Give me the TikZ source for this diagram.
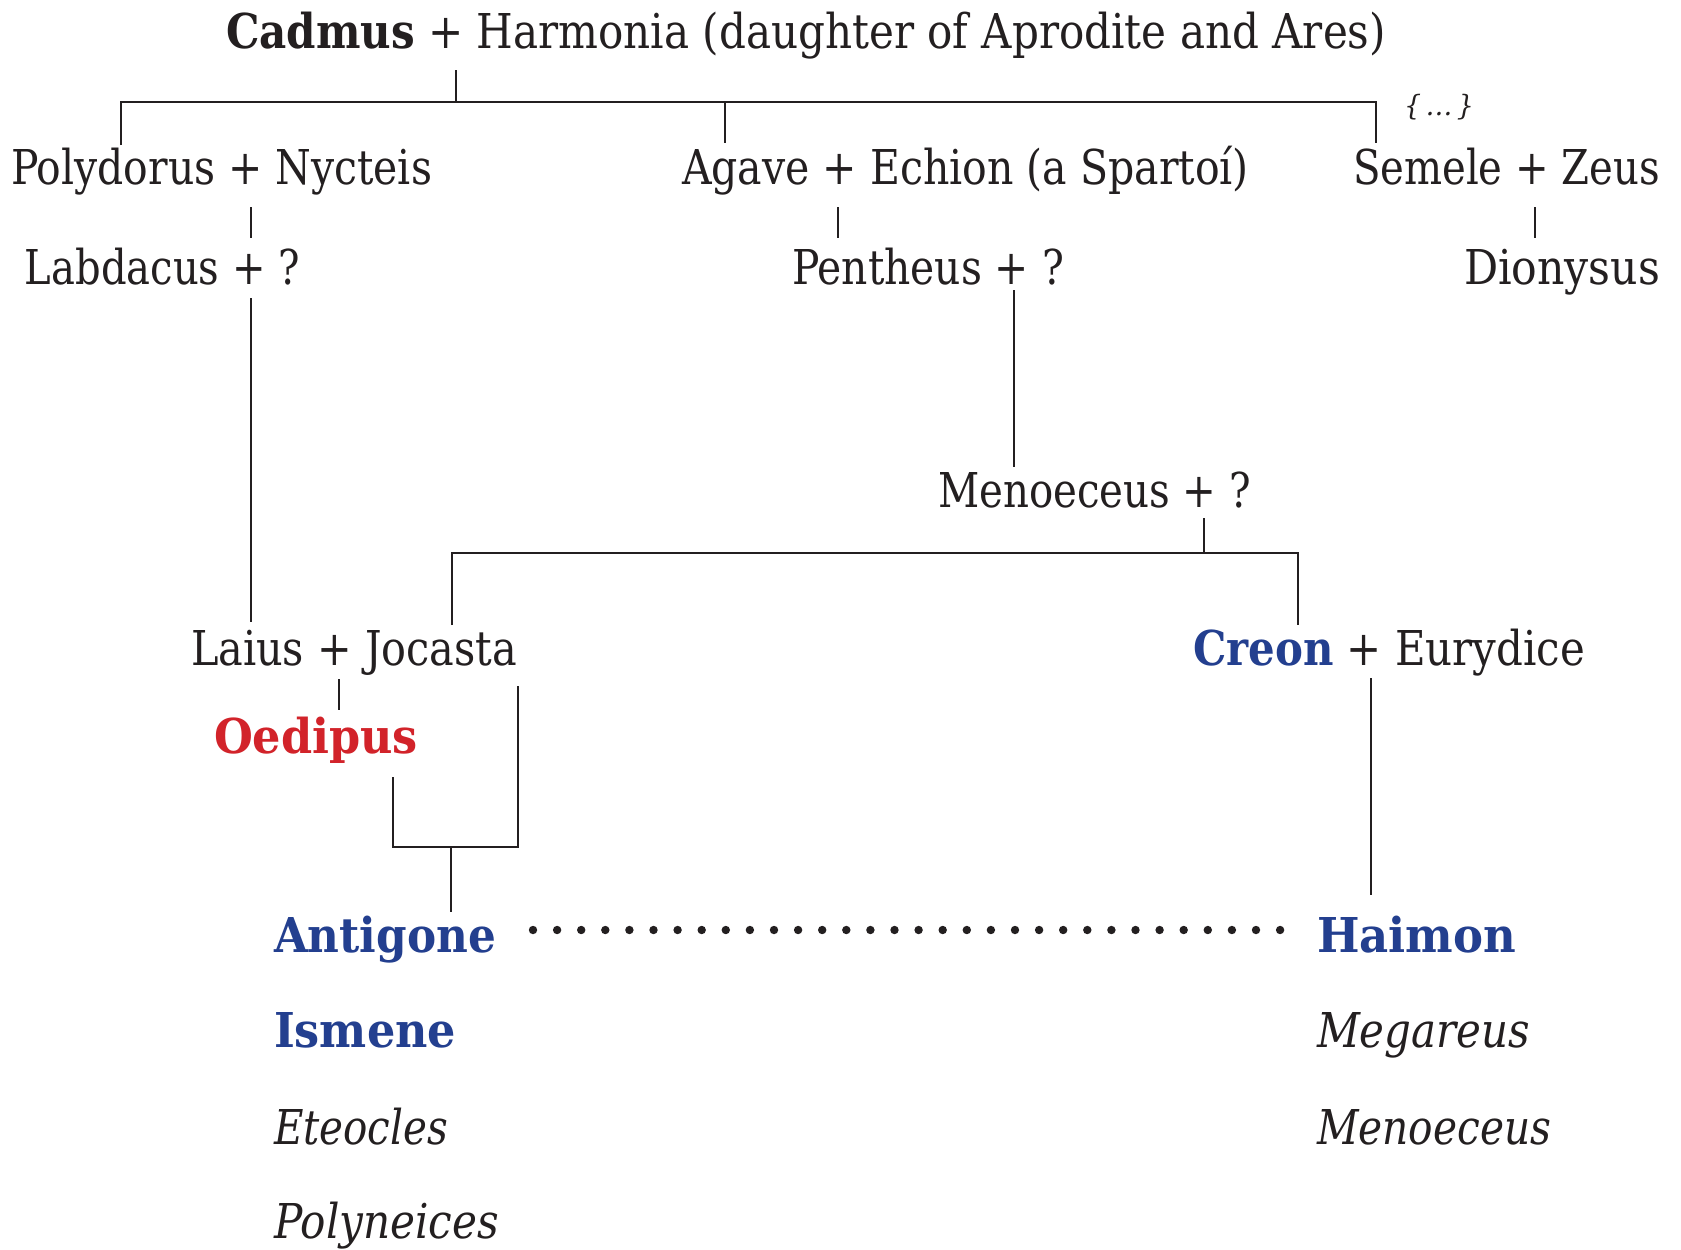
\documentclass[tikz,border=0pt]{standalone}
\usepackage{fontspec}
\setmainfont{DejaVu Serif}
\usepackage{graphicx}
\definecolor{ink}{HTML}{231F20}
\definecolor{tblue}{HTML}{233F8F}
\definecolor{tred}{HTML}{D2232A}
\newlength\pxu \setlength\pxu{0.5pt}
\newcommand\fitw[2]{\resizebox{#1\pxu}{\height}{#2}}
\newcommand\bb[1]{\textcolor{tblue}{\textbf{#1}}}
\begin{document}
\begin{tikzpicture}[x=0.5pt,y=-0.5pt,
  txt/.style={anchor=base west, inner sep=0pt, outer sep=0pt, text=ink, font=\fontsize{24}{28}\selectfont},
  small/.style={anchor=base west, inner sep=0pt, outer sep=0pt, text=ink, font=\fontsize{14}{16}\selectfont\itshape},
  link/.style={draw=ink, line width=1.4pt},
  dotline/.style={draw=ink, line width=4.2pt, line cap=round, dash pattern=on 0pt off 12.05pt}]
\fill[white] (0,0) rectangle (1681,1249);
\useasboundingbox (0,0) rectangle (1681,1249);

% texts
\node[txt] (cadmus) at (226,48) {\fitw{1160}{\textbf{Cadmus} + Harmonia (daughter of Aprodite and Ares)}};
\node[small] (etc) at (1404,115) {\fitw{70}{\{\,…\,\}}};
\node[txt] (poly) at (11,184) {\fitw{421}{Polydorus + Nycteis}};
\node[txt] (agave) at (682,184) {\fitw{567}{Agave + Echion (a Spartoí)}};
\node[txt] (semele) at (1353,184) {\fitw{307}{Semele + Zeus}};
\node[txt] (labd) at (25,284) {\fitw{275}{Labdacus + ?}};
\node[txt] (penth) at (792,284) {\fitw{272}{Pentheus + ?}};
\node[txt] (dion) at (1464,284) {\fitw{196}{Dionysus}};
\node[txt] (menoA) at (938,507) {\fitw{313}{Menoeceus + ?}};
\node[txt] (laius) at (191,665) {\fitw{326}{Laius + Jocasta}};
\node[txt] (creon) at (1193,665) {\fitw{392}{\bb{Creon} + Eurydice}};
\node[txt] (oed) at (214,753) {\fitw{204}{\textcolor{tred}{\textbf{Oedipus}}}};
\node[txt] (anti) at (274,952) {\fitw{222}{\bb{Antigone}}};
\node[txt] (haim) at (1317,952) {\fitw{199}{\bb{Haimon}}};
\node[txt] (ism) at (274,1047) {\fitw{182}{\bb{Ismene}}};
\node[txt] (mega) at (1317,1047) {\fitw{213}{\itshape Megareus}};
\node[txt] (eteo) at (274,1144) {\fitw{174}{\itshape Eteocles}};
\node[txt] (menoB) at (1317,1144) {\fitw{234}{\itshape Menoeceus}};
\node[txt] (polyn) at (274,1238) {\fitw{225}{\itshape Polyneices}};

% junction coordinates
\coordinate (cadS) at (456,70);
\coordinate (cadJ) at (456,102);
\coordinate (tL) at (121,102);
\coordinate (tM) at (725,102);
\coordinate (tR) at (1376,102);
\coordinate (polyT) at (121,145);
\coordinate (agaveT) at (725,143);
\coordinate (semeleT) at (1376,143);
\coordinate (polyB) at (251,207);
\coordinate (labdT) at (251,238);
\coordinate (agaveB) at (838,207);
\coordinate (penthT) at (838,238);
\coordinate (semeleB) at (1535,207);
\coordinate (dionT) at (1535,238);
\coordinate (labdB) at (251,298);
\coordinate (laiusT) at (251,622);
\coordinate (penthB) at (1014,290);
\coordinate (menoT) at (1014,467);
\coordinate (menoS) at (1204,518);
\coordinate (menoJ) at (1204,553);
\coordinate (mL) at (452,553);
\coordinate (mR) at (1298,553);
\coordinate (jocT) at (452,625);
\coordinate (creonT) at (1298,625);
\coordinate (laiusB) at (339,679);
\coordinate (oedT) at (339,710);
\coordinate (oedB) at (393,777);
\coordinate (oedJ) at (393,847);
\coordinate (jocB) at (518,686);
\coordinate (jocJ) at (518,847);
\coordinate (antJ) at (451,847);
\coordinate (antT) at (451,912);
\coordinate (creonB) at (1371,678);
\coordinate (haimT) at (1371,895);
\coordinate (dL) at (533,930);
\coordinate (dR) at (1281,930);

% connectors
\draw[link] (cadS) -- (cadJ);
\draw[link] (polyT) -- (tL) -- (tR) -- (semeleT);
\draw[link] (tM) -- (agaveT);
\draw[link] (polyB) -- (labdT);
\draw[link] (agaveB) -- (penthT);
\draw[link] (semeleB) -- (dionT);
\draw[link] (labdB) -- (laiusT);
\draw[link] (penthB) -- (menoT);
\draw[link] (menoS) -- (menoJ);
\draw[link] (jocT) -- (mL) -- (mR) -- (creonT);
\draw[link] (laiusB) -- (oedT);
\draw[link] (oedB) -- (oedJ) -- (jocJ) -- (jocB);
\draw[link] (antJ) -- (antT);
\draw[link] (creonB) -- (haimT);
\draw[dotline] (dL) -- (dR);
\end{tikzpicture}
\end{document}
